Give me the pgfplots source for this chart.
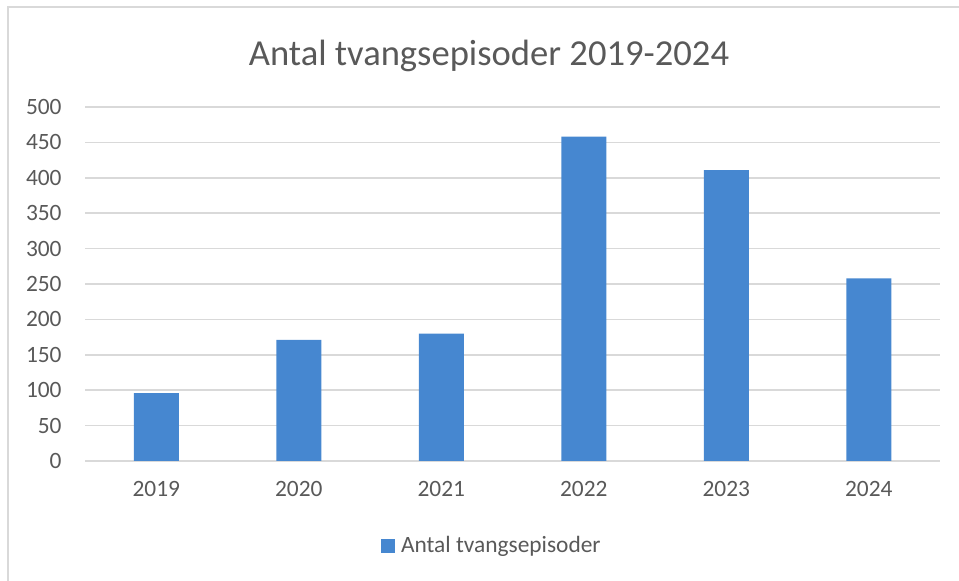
\documentclass[border=0pt]{standalone}
\usepackage{pgfplots}
\pgfplotsset{compat=1.18}
\usepackage{fontspec}
\setmainfont{Carlito}
\definecolor{barblue}{RGB}{70,135,208}
\definecolor{gridgray}{RGB}{217,217,217}
\definecolor{textgray}{RGB}{89,89,89}
\begin{document}
\begin{tikzpicture}
\path[use as bounding box] (0pt,0pt) rectangle (479.5pt,290.5pt);
\draw[gridgray, line width=0.75pt] (4pt,0pt) -- (4pt,287pt) -- (479.5pt,287pt);
\node[anchor=base, inner sep=0pt, text=textgray, font=\fontsize{18.3}{22}\selectfont] at (244.5pt,257.5pt) {Antal tvangsepisoder 2019-2024};
\begin{axis}[
  at={(42.5pt,60pt)}, anchor=south west,
  scale only axis, width=427.5pt, height=177pt,
  xmin=-0.5, xmax=5.5, ymin=0, ymax=500,
  ytick={0,50,...,500},
  xtick={0,1,2,3,4,5},
  xticklabels={2019,2020,2021,2022,2023,2024},
  major tick length=0pt,
  axis line style={draw=none},
  ymajorgrids, grid style={color=gridgray, line width=0.75pt},
  /pgf/number format/assume math mode=true,
  ticklabel style={text=textgray, font=\fontsize{11.7}{14}\selectfont, inner sep=0pt},
  yticklabel style={anchor=east, xshift=-11.5pt},
  xticklabel style={anchor=base, yshift=-18pt},
  legend style={at={(0.3462,-0.2401)}, anchor=west, draw=none, fill=none,
    inner sep=0pt, outer sep=0pt, font=\fontsize{11.7}{14}\selectfont, text=textgray,
    nodes={inner sep=0pt},
    /tikz/every odd column/.append style={column sep=3pt}},
  legend image code/.code={\fill[barblue] (0pt,-3.5pt) rectangle (7pt,3.5pt);},
]
\addplot[ybar, bar width=22.5pt, fill=barblue, draw=none] coordinates {
  (0,96) (1,171) (2,180) (3,458) (4,411) (5,258)
};
\addlegendentry{Antal tvangsepisoder}
\end{axis}
\end{tikzpicture}
\end{document}
